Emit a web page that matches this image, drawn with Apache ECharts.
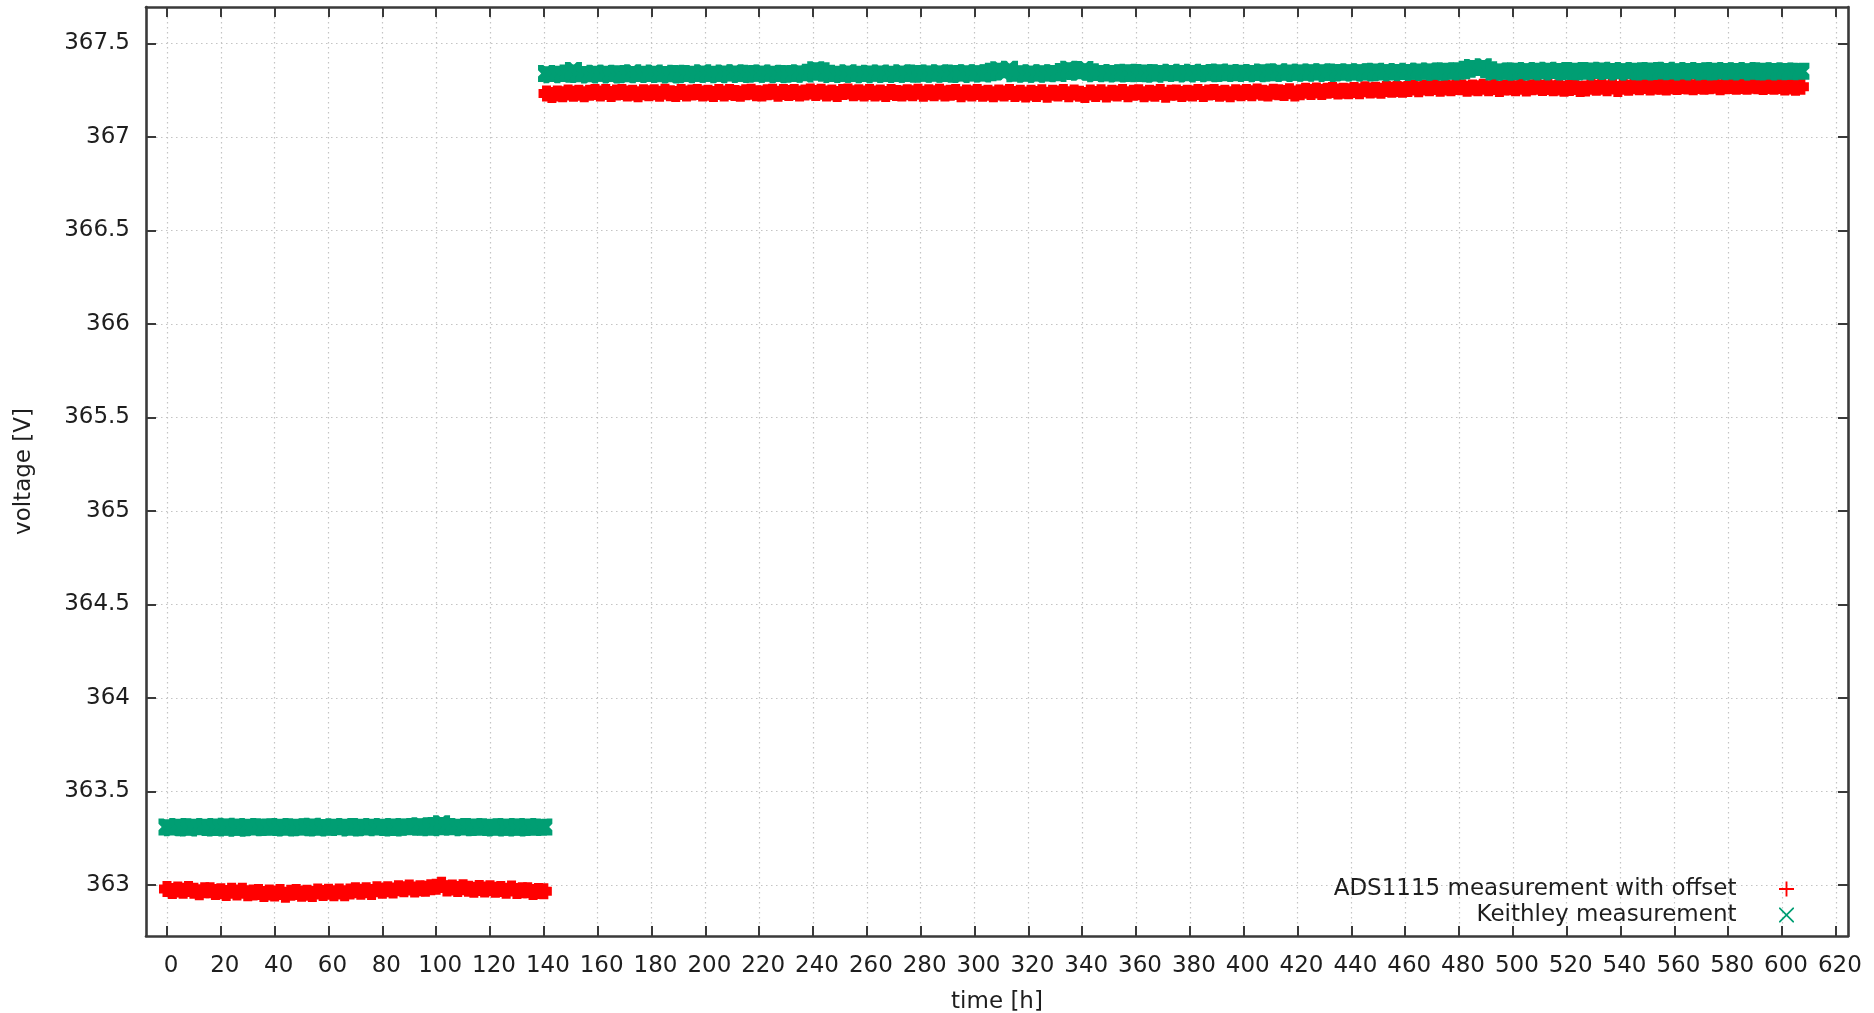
<!DOCTYPE html>
<html>
<head>
<meta charset="utf-8">
<script src="https://cdn.jsdelivr.net/npm/echarts@6/dist/echarts.min.js"></script>
<style>
  html, body { margin: 0; padding: 0; background: #ffffff; }
  #chart { width: 1874px; height: 1013px; }
</style>
</head>
<body>
<div id="chart"></div>
<script>
// Long-term voltage logging: ADS1115 (with offset) against the Keithley reference.
// Samples are taken every 2 h; the supply was re-adjusted at ~140 h.

const xTicks = [0, 20, 40, 60, 80, 100, 120, 140, 160, 180, 200, 220, 240, 260, 280, 300,
  320, 340, 360, 380, 400, 420, 440, 460, 480, 500, 520, 540, 560, 580, 600, 620];
const yTicks = [363, 363.5, 364, 364.5, 365, 365.5, 366, 366.5, 367, 367.5];

const seg1Start = 0;     // h, first run
const seg2Start = 141;   // h, second run
const sampleStep = 2;    // h between logged samples

// ADS1115 readings [V], first run (0 .. 140 h)
const adsSeg1 = [
  362.979, 362.968, 362.975, 362.969, 362.978, 362.969, 362.961, 362.971, 362.972, 362.962,
  362.966, 362.957, 362.969, 362.960, 362.969, 362.955, 362.959, 362.962, 362.952, 362.959,
  362.954, 362.962, 362.948, 362.958, 362.962, 362.953, 362.958, 362.952, 362.965, 362.957,
  362.964, 362.956, 362.965, 362.956, 362.965, 362.972, 362.964, 362.971, 362.962, 362.977,
  362.969, 362.977, 362.970, 362.983, 362.977, 362.987, 362.976, 362.983, 362.980, 362.988,
  362.991, 363.001, 362.981, 362.987, 362.978, 362.988, 362.980, 362.974, 362.984, 362.976,
  362.983, 362.974, 362.978, 362.969, 362.981, 362.968, 362.971, 362.971, 362.962, 362.968,
  362.966
];

// Keithley readings [V], first run (0 .. 140 h)
const keithleySeg1 = [
  363.310, 363.306, 363.312, 363.308, 363.304, 363.311, 363.309, 363.313, 363.307, 363.305,
  363.310, 363.314, 363.308, 363.303, 363.309, 363.312, 363.306, 363.310, 363.311, 363.307,
  363.309, 363.313, 363.305, 363.308, 363.311, 363.306, 363.310, 363.314, 363.304, 363.309,
  363.307, 363.311, 363.308, 363.312, 363.305, 363.309, 363.313, 363.306, 363.310, 363.308,
  363.312, 363.307, 363.304, 363.310, 363.313, 363.308, 363.311, 363.316, 363.309, 363.306,
  363.318, 363.327, 363.311, 363.308, 363.312, 363.306, 363.310, 363.313, 363.307, 363.309,
  363.311, 363.305, 363.309, 363.312, 363.308, 363.304, 363.310, 363.313, 363.307, 363.309,
  363.310
];

// ADS1115 readings [V], second run (141 .. 607 h)
const adsSeg2 = [
  367.232, 367.224, 367.232, 367.228, 367.238, 367.231, 367.237, 367.229, 367.236, 367.241,
  367.233, 367.240, 367.230, 367.238, 367.241, 367.232, 367.237, 367.229, 367.239, 367.234,
  367.239, 367.231, 367.242, 367.234, 367.230, 367.240, 367.233, 367.238, 367.241, 367.232,
  367.237, 367.230, 367.240, 367.233, 367.241, 367.235, 367.231, 367.239, 367.242, 367.234,
  367.233, 367.239, 367.242, 367.231, 367.240, 367.235, 367.241, 367.232, 367.238, 367.243,
  367.235, 367.242, 367.233, 367.238, 367.230, 367.240, 367.243, 367.234, 367.239, 367.232,
  367.240, 367.233, 367.238, 367.230, 367.241, 367.235, 367.232, 367.239, 367.234, 367.242,
  367.231, 367.239, 367.234, 367.242, 367.232, 367.237, 367.240, 367.229, 367.238, 367.233,
  367.240, 367.231, 367.236, 367.229, 367.238, 367.233, 367.241, 367.230, 367.237, 367.227,
  367.237, 367.230, 367.239, 367.226, 367.236, 367.232, 367.240, 367.229, 367.238, 367.231,
  367.225, 367.238, 367.230, 367.239, 367.227, 367.237, 367.232, 367.240, 367.229, 367.236,
  367.239, 367.229, 367.237, 367.231, 367.240, 367.226, 367.236, 367.238, 367.230, 367.237,
  367.233, 367.241, 367.230, 367.238, 367.240, 367.231, 367.237, 367.228, 367.239, 367.234,
  367.241, 367.234, 367.243, 367.236, 367.232, 367.242, 367.239, 367.235, 367.244, 367.233,
  367.239, 367.247, 367.241, 367.249, 367.240, 367.247, 367.251, 367.243, 367.247, 367.245,
  367.251, 367.245, 367.255, 367.249, 367.252, 367.247, 367.257, 367.252, 367.257, 367.252,
  367.257, 367.264, 367.255, 367.264, 367.260, 367.267, 367.258, 367.264, 367.260, 367.267,
  367.266, 367.258, 367.265, 367.260, 367.268, 367.261, 367.267, 367.257, 367.264, 367.266,
  367.261, 367.268, 367.259, 367.266, 367.269, 367.262, 367.267, 367.260, 367.265, 367.258,
  367.262, 367.267, 367.256, 367.259, 367.268, 367.263, 367.269, 367.261, 367.270, 367.257,
  367.269, 367.263, 367.271, 367.266, 367.272, 367.264, 367.270, 367.268, 367.265, 367.271,
  367.267, 367.272, 367.270, 367.266, 367.273, 367.268, 367.271, 367.274, 367.266, 367.271,
  367.272, 367.269, 367.273, 367.268, 367.274, 367.271, 367.267, 367.272, 367.269, 367.273,
  367.264, 367.270, 367.263, 367.269
];

// Keithley readings [V], second run (141 .. 607 h)
const keithleySeg2 = [
  367.340, 367.333, 367.339, 367.335, 367.342, 367.355, 367.334, 367.338, 367.332, 367.341,
  367.335, 367.341, 367.332, 367.340, 367.338, 367.333, 367.343, 367.334, 367.339, 367.336,
  367.342, 367.334, 367.338, 367.331, 367.341, 367.339, 367.333, 367.340, 367.335, 367.343,
  367.335, 367.340, 367.333, 367.342, 367.337, 367.343, 367.334, 367.339, 367.341, 367.336,
  367.342, 367.336, 367.341, 367.333, 367.340, 367.339, 367.335, 367.343, 367.337, 367.346,
  367.360, 367.354, 367.341, 367.334, 367.340, 367.335, 367.343, 367.336, 367.339, 367.333,
  367.341, 367.337, 367.342, 367.334, 367.340, 367.336, 367.343, 367.335, 367.339, 367.342,
  367.335, 367.341, 367.337, 367.344, 367.336, 367.340, 367.342, 367.334, 367.343, 367.338,
  367.342, 367.337, 367.344, 367.352, 367.360, 367.348, 367.362, 367.338, 367.341, 367.336,
  367.343, 367.335, 367.342, 367.338, 367.344, 367.339, 367.350, 367.362, 367.354, 367.346,
  367.361, 367.349, 367.338, 367.345, 367.339, 367.342, 367.337, 367.344, 367.346, 367.340,
  367.338, 367.345, 367.342, 367.336, 367.344, 367.339, 367.346, 367.340, 367.343, 367.337,
  367.346, 367.340, 367.345, 367.338, 367.343, 367.347, 367.339, 367.344, 367.341, 367.345,
  367.340, 367.345, 367.338, 367.347, 367.344, 367.341, 367.349, 367.339, 367.346, 367.342,
  367.346, 367.341, 367.348, 367.343, 367.349, 367.340, 367.345, 367.347, 367.342, 367.348,
  367.344, 367.349, 367.342, 367.348, 367.351, 367.343, 367.347, 367.344, 367.350, 367.345,
  367.352, 367.345, 367.351, 367.348, 367.353, 367.346, 367.351, 367.354, 367.347, 367.352,
  367.354, 367.362, 367.372, 367.366, 367.376, 367.360, 367.348, 367.353, 367.346, 367.352,
  367.354, 367.349, 367.356, 367.347, 367.353, 367.352, 367.357, 367.348, 367.355, 367.350,
  367.349, 367.355, 367.352, 367.348, 367.356, 367.353, 367.357, 367.350, 367.354, 367.347,
  367.356, 367.349, 367.354, 367.352, 367.348, 367.355, 367.353, 367.350, 367.357, 367.349,
  367.353, 367.348, 367.355, 367.350, 367.354, 367.347, 367.352, 367.356, 367.349, 367.353,
  367.350, 367.354, 367.348, 367.355, 367.349, 367.352, 367.354, 367.347, 367.353, 367.350,
  367.353, 367.349, 367.352, 367.351
];

const adsName = 'ADS1115 measurement with offset';
const keithleyName = 'Keithley measurement';
const adsColor = '#ff0000';
const keithleyColor = '#009e73';

function toPoints(start, step, values) {
  return values.map((v, i) => [start + i * step, v]);
}

const adsData = toPoints(seg1Start, sampleStep, adsSeg1)
  .concat(toPoints(seg2Start, sampleStep, adsSeg2));
const keithleyData = toPoints(seg1Start, sampleStep, keithleySeg1)
  .concat(toPoints(seg2Start, sampleStep, keithleySeg2));

// point glyphs: heavy versions for the dense plot, thin ones for the key
const plusBold = 'path://M3.5,0H12.5V3.5H16V12.5H12.5V16H3.5V12.5H0V3.5H3.5Z';
const crossBold = 'path://M0,0H5L8,3L11,0H16V5L13,8L16,11V16H11L8,13L5,16H0V11L3,8L0,5Z';
const plusThin = 'path://M7,0H9V7H16V9H9V16H7V9H0V7H7Z';
const crossThin = 'path://M0,0H1.3L8,6.7L14.7,0H16V1.3L9.3,8L16,14.7V16H14.7L8,9.3L1.3,16H0V14.7L6.7,8L0,1.3Z';

const FONT = 'DejaVu Sans';
const textColor = '#1e1e1e';
const frameColor = '#3a3a3a';
const gridLine = { show: true, lineStyle: { color: '#c4c4c4', width: 1.2, type: [1.5, 3.5] } };

function xAxisBase(pos, withLabels) {
  return {
    type: 'value', position: pos, min: -7.8, max: 624.5,
    axisLine: { show: true, onZero: false, lineStyle: { color: frameColor, width: 2.6 } },
    axisTick: { show: true, inside: true, length: 10, customValues: xTicks,
      lineStyle: { color: frameColor, width: 2 } },
    axisLabel: { show: withLabels, customValues: xTicks, margin: 19, padding: [0, 0, 0, 8],
      fontFamily: FONT, fontSize: 23, color: textColor },
    splitLine: withLabels ? gridLine : { show: false }
  };
}
function yAxisBase(pos, withLabels) {
  return {
    type: 'value', position: pos, min: 362.727, max: 367.695,
    axisLine: { show: true, onZero: false, lineStyle: { color: frameColor, width: 2.6 } },
    axisTick: { show: true, inside: true, length: 10, customValues: yTicks,
      lineStyle: { color: frameColor, width: 2 } },
    axisLabel: { show: withLabels, customValues: yTicks, margin: 16,
      fontFamily: FONT, fontSize: 23, color: textColor },
    splitLine: withLabels ? gridLine : { show: false }
  };
}

const xBottom = Object.assign(xAxisBase('bottom', true), {
  name: 'time [h]', nameLocation: 'middle', nameGap: 55,
  nameTextStyle: { fontFamily: FONT, fontSize: 23, color: textColor }
});
const yLeft = Object.assign(yAxisBase('left', true), {
  name: 'voltage [V]', nameLocation: 'middle', nameGap: 110, nameRotate: 90,
  nameTextStyle: { fontFamily: FONT, fontSize: 23, color: textColor }
});

const chart = echarts.init(document.getElementById('chart'), null, { renderer: 'canvas' });
chart.setOption({
  animation: false,
  backgroundColor: '#ffffff',
  grid: { left: 146, right: 26, top: 7, bottom: 77, containLabel: false, outerBoundsMode: 'none' },
  xAxis: [xBottom, xAxisBase('top', false)],
  yAxis: [yLeft, yAxisBase('right', false)],
  legend: {
    orient: 'vertical', align: 'right', right: 80, top: 877, padding: 0,
    itemWidth: 90, itemHeight: 15, itemGap: 2,
    textStyle: { fontFamily: FONT, fontSize: 23, color: textColor, lineHeight: 24 },
    data: [
      { name: adsName, icon: plusThin, itemStyle: { color: adsColor } },
      { name: keithleyName, icon: crossThin, itemStyle: { color: keithleyColor } }
    ]
  },
  series: [
    {
      name: adsName, type: 'scatter', xAxisIndex: 0, yAxisIndex: 0,
      symbol: plusBold, symbolSize: 16,
      itemStyle: { color: adsColor, opacity: 1 },
      emphasis: { disabled: true },
      data: adsData
    },
    {
      name: keithleyName, type: 'scatter', xAxisIndex: 0, yAxisIndex: 0,
      symbol: crossBold, symbolSize: 17,
      itemStyle: { color: keithleyColor, opacity: 1 },
      emphasis: { disabled: true },
      data: keithleyData
    }
  ]
});
</script>
</body>
</html>
